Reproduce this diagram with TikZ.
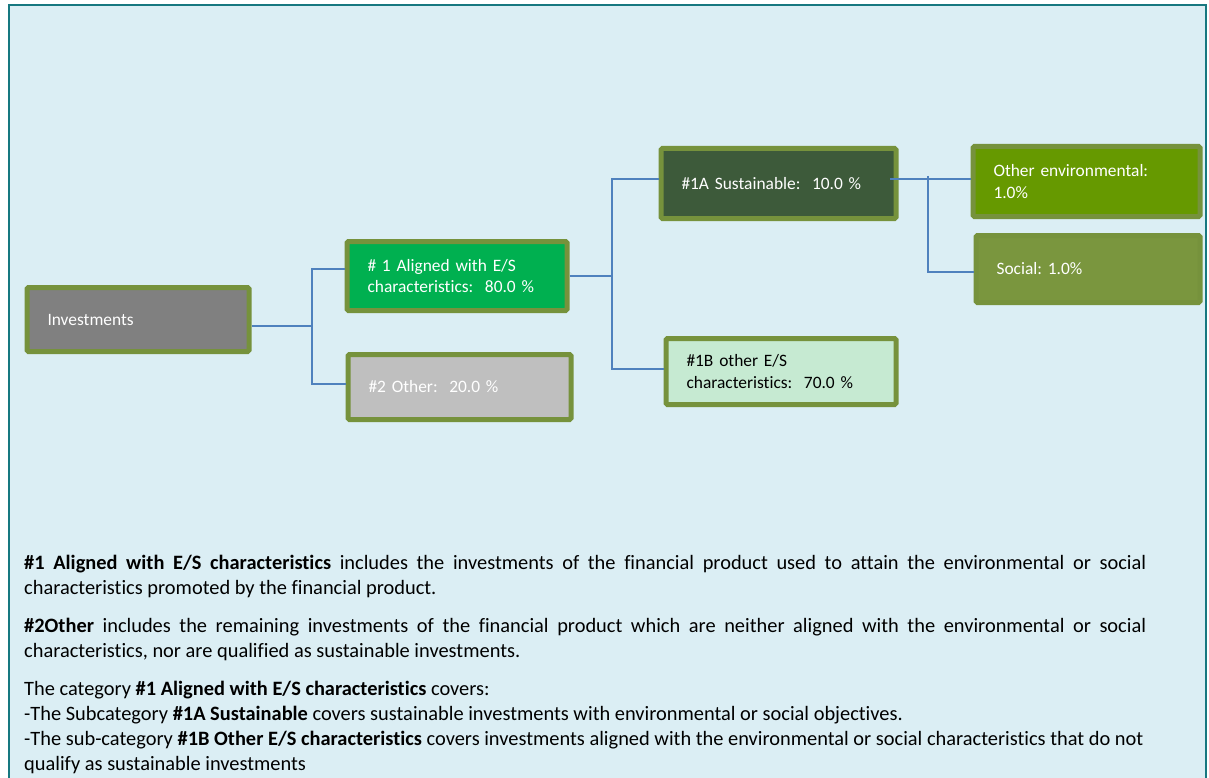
\documentclass[tikz,border=0pt]{standalone}
\usepackage{fontspec}
\setmainfont{Carlito}[Ligatures=NoCommon]
\usepackage{xcolor}
\frenchspacing

\definecolor{frameteal}{RGB}{23,120,128}
\definecolor{framefill}{RGB}{219,238,244}
\definecolor{boxolive}{RGB}{118,146,60}
\definecolor{linkblue}{RGB}{79,129,189}
\definecolor{invgrey}{RGB}{128,128,128}
\definecolor{alignedgreen}{RGB}{0,176,80}
\definecolor{othergrey}{RGB}{191,191,191}
\definecolor{sustgreen}{RGB}{61,90,58}
\definecolor{esmint}{RGB}{198,234,210}
\definecolor{envgreen}{RGB}{102,153,0}
\definecolor{socialolive}{RGB}{122,150,62}

\tikzset{
  catbox/.style={draw=boxolive, line width=5pt, rounded corners=1.5pt, anchor=west,
    inner xsep=20.5pt, inner ysep=0pt, align=left, text=white,
    font=\fontsize{17.4}{21.5}\selectfont},
  link/.style={draw=linkblue, line width=1.6pt},
}

\begin{document}
\begin{tikzpicture}[x=1pt,y=-1pt]
  \useasboundingbox (0,0) rectangle (1209,778);
  \draw[frameteal, line width=2.2pt, fill=framefill] (9,5) rectangle (1206,800);
  % Define nodes
  \node[catbox, fill=invgrey, text width=181pt, minimum height=64pt] (inv) at (24.5,319.5) {Investments}; %
  \node[catbox, fill=alignedgreen, text width=179pt, minimum height=69pt] (aligned) at (344.5,276) {\# 1 Aligned with E/S\\characteristics:\ \ 80.0 \%}; %
  \node[catbox, fill=othergrey, text width=182pt, minimum height=65pt] (other) at (345.5,387) {\#2 Other:\ \ 20.0 \%}; %
  \node[catbox, fill=sustgreen, text width=194pt, minimum height=70pt] (sust) at (658.5,183.5) {\#1A Sustainable:\ \ 10.0 \%}; %
  \node[catbox, fill=esmint, text=black, text width=189pt, minimum height=66pt] (esother) at (663.5,371.5) {\#1B other E/S\\characteristics:\ \ 70.0 \%}; %
  \node[catbox, fill=envgreen, text width=186pt, minimum height=70pt] (envir) at (970.5,181.5) {Other environmental:\\1.0\%}; %
  \node[catbox, fill=socialolive, text width=183pt, minimum height=67pt] (social) at (973.5,269) {Social: 1.0\%};
  % Connectors
  \coordinate (b1) at (312,326);
  \coordinate (b2) at (612,276);
  \coordinate (b3) at (928,176);
  \draw[link] (inv.east |- b1) -- (b1) |- ([yshift=7pt]aligned.west);
  \draw[link] (b1) |- ([yshift=3pt]other.west);
  \draw[link] (aligned.east) -- (b2) |- ([yshift=4.5pt]sust.west);
  \draw[link] (b2) |- ([yshift=2.5pt]esother.west);
  \draw[link] ([xshift=-8.5pt,yshift=4.5pt]sust.east) -- ([yshift=2.5pt]envir.west);
  \draw[link] (b3) |- ([yshift=-3pt]social.west);
  % Notes
  \node[anchor=north west, inner sep=0pt, text width=1122pt, align=justify,
    font=\fontsize{20.4}{25}\selectfont] (notes) at (24,555) {%
    \setlength{\parindent}{0pt}\setlength{\parskip}{13pt}%
    \textbf{\#1 Aligned with E/S characteristics} includes the investments of the financial product used to attain the environmental or social\linebreak
    characteristics promoted by the financial product.\par
    \textbf{\#2Other} includes the remaining investments of the financial product which are neither aligned with the environmental or social\linebreak
    characteristics, nor are qualified as sustainable investments.\par
    The category \textbf{\#1 Aligned with E/S characteristics} covers:\newline
    -The Subcategory \textbf{\#1A Sustainable} covers sustainable investments with environmental or social objectives.\newline
    -The sub-category \textbf{\#1B Other E/S characteristics} covers investments aligned with the environmental or social characteristics that do not\newline
    qualify as sustainable investments\par};
\end{tikzpicture}
\end{document}
